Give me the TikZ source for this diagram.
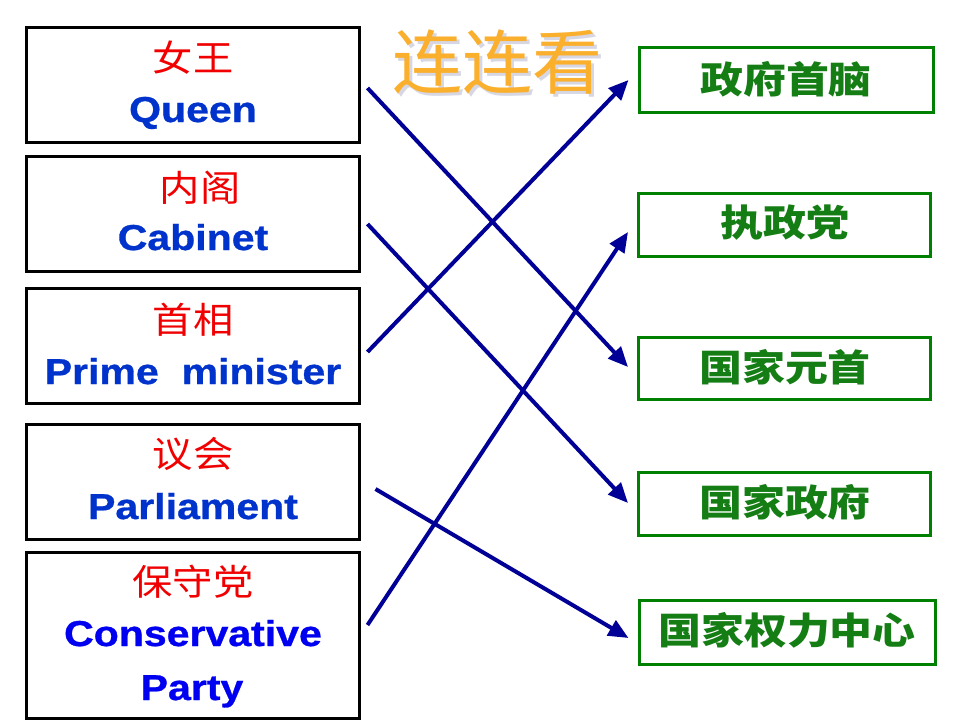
\documentclass[tikz,border=0pt]{standalone}
\usepackage{fontspec}
\setmainfont{Liberation Sans}
\newfontfamily\cjk{Noto Sans CJK SC}
\newfontfamily\enheavy[FakeBold=0.8]{Liberation Sans Bold}
\usetikzlibrary{arrows.meta,calc}
\definecolor{enblue}{RGB}{0,51,204}
\definecolor{cpblue}{RGB}{0,0,240}
\definecolor{cnred}{RGB}{240,0,0}
\definecolor{boxgreen}{RGB}{0,128,0}
\definecolor{txtgreen}{RGB}{20,125,20}
\definecolor{navy}{RGB}{0,0,150}
\definecolor{titleor}{RGB}{250,175,45}
\definecolor{titlesh}{RGB}{215,215,228}
\tikzset{
  leftbox/.style={draw=black, line width=3pt, minimum width=333pt, inner sep=0pt},
  rightbox/.style={draw=boxgreen, line width=3pt, minimum width=292pt, minimum height=64pt, inner sep=0pt},
  cnlabel/.style={text=cnred, font=\cjk\fontsize{36}{40}\selectfont, xscale=1.12, inner sep=0pt},
  enlabel/.style={text=enblue, font=\enheavy\fontsize{36}{40}\selectfont, xscale=1.14, inner sep=0pt, anchor=base},
  grlabel/.style={text=txtgreen, font=\cjk\bfseries\fontsize{37}{40}\selectfont, xscale=1.16, inner sep=0pt},
  link/.style={draw=navy, line width=4pt, -{Triangle[length=20pt,width=17pt]}}
}
\begin{document}
\begin{tikzpicture}[x=1pt,y=-1pt]
\useasboundingbox (0,0) rectangle (960,720);
\fill[white] (0,0) rectangle (960,720);
% title (with its soft shadow)
\node[font=\cjk\fontsize{70}{74}\selectfont, inner sep=0pt] (title) at (497,63)
  {\rlap{\hspace{3pt}\raisebox{-3pt}{\color{titlesh}连连看}}\color{titleor}连连看};
% left boxes
\node[leftbox, minimum height=115pt] (b1) at (192.5,84.5) {};
\node[leftbox, minimum height=115pt] (b2) at (192.5,213.5) {};
\node[leftbox, minimum height=115pt] (b3) at (192.5,345.5) {};
\node[leftbox, minimum height=115pt] (b4) at (192.5,481.5) {};
\node[leftbox, minimum height=166pt] (b5) at (192.5,635) {};
\node[cnlabel] (c1) at (193,58) {女王};
\node[enlabel] (e1) at (193,122) {Queen};
\node[cnlabel] (c2) at (200,188) {内阁};
\node[enlabel] (e2) at (193,250) {Cabinet};
\node[cnlabel] (c3) at (193,320) {首相};
\node[enlabel] (e3) at (193,384) {Prime\ \ minister};
\node[cnlabel] (c4) at (193,454) {议会};
\node[enlabel] (e4) at (193,519) {Parliament};
\node[cnlabel] (c5) at (193,582) {保守党};
\node[enlabel, text=cpblue] (e5) at (193,646) {Conservative};
\node[enlabel, text=cpblue] (e6) at (192,700) {Party};
% right boxes
\node[rightbox, minimum width=294pt, minimum height=65pt] (r1) at (786,79.5) {};
\node[rightbox, minimum height=63pt] (r2) at (784.5,224.5) {};
\node[rightbox, minimum height=62pt] (r3) at (784.5,368) {};
\node[rightbox, minimum height=63pt] (r4) at (784.5,503.5) {};
\node[rightbox, minimum width=296pt] (r5) at (787,632) {};
\node[grlabel] (g1) at (786,79) {政府首脑};
\node[grlabel] (g2) at (785,223) {执政党};
\node[grlabel] (g3) at (785,367) {国家元首};
\node[grlabel] (g4) at (785,502) {国家政府};
\node[grlabel] (g5) at (787,630) {国家权力中心};
% connectors
\draw[link] ($(b1.east)+(7,3.5)$) -- ($(r3.west)+(-9,-1)$);
\draw[link] ($(b2.east)+(7,10.5)$) -- ($(r4.west)+(-9,-0.5)$);
\draw[link] ($(b3.east)+(7,6.5)$) -- ($(r1.west)+(-9,0.5)$);
\draw[link] ($(b4.east)+(15,7.5)$) -- ($(r5.west)+(-9,6)$);
\draw[link] ($(b5.east)+(7,-10)$) -- ($(r2.west)+(-9,7.5)$);
\end{tikzpicture}
\end{document}
